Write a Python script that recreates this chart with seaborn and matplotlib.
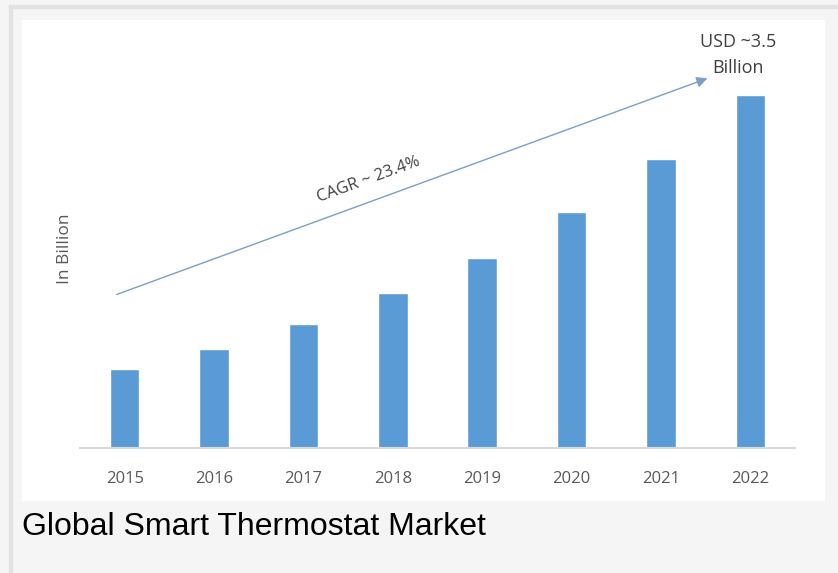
import pandas as pd
import seaborn as sns
import matplotlib.pyplot as plt
from matplotlib.patches import Rectangle

# --- data ---
years = ['2015', '2016', '2017', '2018', '2019', '2020', '2021', '2022']
market_size = [0.78, 0.98, 1.23, 1.53, 1.88, 2.34, 2.86, 3.5]  # USD billion

BAR_COLOR = '#5B9BD5'
TEXT_GRAY = '#595959'

sns.set_theme(style='white')
plt.rcParams['font.family'] = ['Open Sans', 'DejaVu Sans']

df = pd.DataFrame({'year': years, 'value': market_size})

fig = plt.figure(figsize=(8.38, 5.73), dpi=100, facecolor='#f5f5f5')

# page frame: grey border on top/left, white chart panel
fig.patches.append(Rectangle((9 / 838, 0), 3 / 838, 1 - 5 / 573, transform=fig.transFigure,
                             color='#e2e2e2', zorder=0))
fig.patches.append(Rectangle((9 / 838, 1 - 8 / 573), 1, 3 / 573, transform=fig.transFigure,
                             color='#e2e2e2', zorder=0))
fig.patches.append(Rectangle((22 / 838, 1 - 500 / 573), (824 - 22) / 838, 480 / 573,
                             transform=fig.transFigure, color='white', zorder=0))

ax = fig.add_axes([80 / 838, 1 - 448 / 573, 715 / 838, 404 / 573])
ax.set_facecolor('none')
ax.set_zorder(2)

sns.barplot(data=df, x='year', y='value', color=BAR_COLOR, width=0.33,
            saturation=1, ax=ax)

ax.set_ylim(0, 4.0)
ax.set_xlim(-0.5, len(years) - 0.5)
ax.set_xlabel('')
ax.set_ylabel('')
ax.set_yticks([])
for side in ['top', 'right', 'left']:
    ax.spines[side].set_visible(False)
ax.spines['bottom'].set_color('#d9d9d9')
ax.spines['bottom'].set_linewidth(1.5)
ax.tick_params(axis='x', length=0, pad=22, labelsize=12, labelcolor=TEXT_GRAY)
for lbl in ax.get_xticklabels():
    lbl.set_va('center')

# growth arrow
ax.annotate('', xy=(6.52, 3.66), xytext=(-0.09, 1.52),
            arrowprops=dict(arrowstyle='-|>', color='#7c9fc4', lw=1.0,
                            mutation_scale=16, shrinkA=0, shrinkB=0),
            annotation_clip=False)
ax.text(2.73, 2.66, 'CAGR ~ 23.4%', rotation=20, ha='center', va='center',
        fontsize=12, color='#404040')
ax.text(6.86, 3.89, 'USD ~3.5\nBillion', ha='center', va='center',
        fontsize=13, color='#404040', linespacing=1.6, clip_on=False)

fig.text(65 / 838, 1 - 249 / 573, 'In Billion', rotation=90, ha='center', va='center',
         fontsize=12.5, color=TEXT_GRAY, zorder=3)

fig.text(22 / 838, 1 - 527 / 573, 'Global Smart Thermostat Market', ha='left', va='center',
         fontsize=23, color='black', family=['Liberation Sans', 'DejaVu Sans'])

plt.savefig('out.png', dpi=100, facecolor=fig.get_facecolor())
